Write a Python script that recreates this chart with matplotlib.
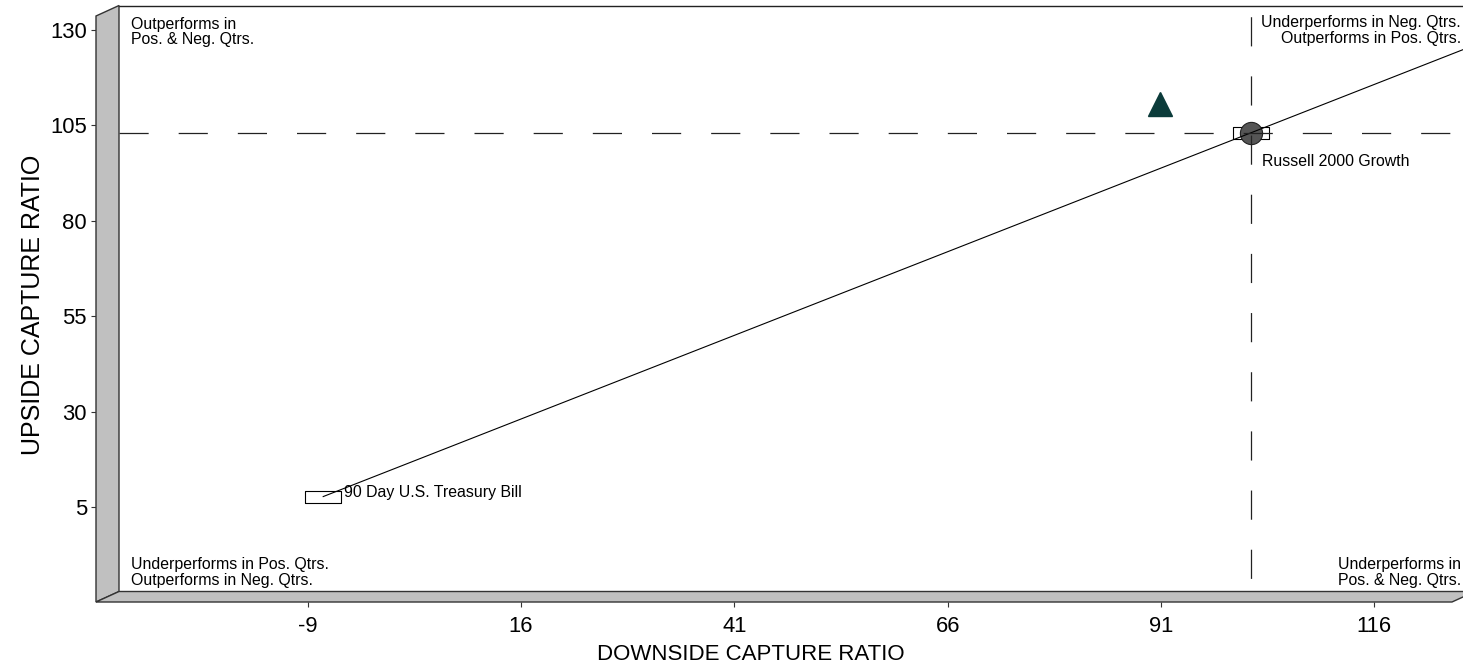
import matplotlib.pyplot as plt
from matplotlib.patches import Polygon

plt.rcParams['font.family'] = ['Liberation Sans', 'DejaVu Sans']
plt.rcParams['lines.scale_dashes'] = False
plt.rcParams['axes.unicode_minus'] = False

# --- data -------------------------------------------------------------
x_ticks = [-9, 16, 41, 66, 91, 116]
y_ticks = [5, 30, 55, 80, 105, 130]

point_names = ["90 Day U.S. Treasury Bill", "Russell 2000 Growth"]
point_down = [-9.0, 100.0]
point_up = [5.0, 100.0]

fund_down = [89.3]
fund_up = [107.6]

quad_tl = "Outperforms in\nPos. & Neg. Qtrs."
quad_tr = "Underperforms in Neg. Qtrs.\nOutperforms in Pos. Qtrs."
quad_bl = "Underperforms in Pos. Qtrs.\nOutperforms in Neg. Qtrs."
quad_br = "Underperforms in\nPos. & Neg. Qtrs."

# --- layout (pixels of a 1463x670 picture) ----------------------------
W, H = 1463, 670
small = 11.4


def fx(px):
    return px / W


def fy(py):
    return 1 - py / H


fig = plt.figure(figsize=(W / 100, H / 100), dpi=100)
fig.patch.set_facecolor("white")

# front plane: carries the ticks
front = fig.add_axes([fx(96), fy(602), (1452 - 96) / W, (602 - 16) / H])
front.set_xlim(-33.8, 125.1)
front.set_ylim(-19.8, 133.6)
front.patch.set_visible(False)
for s in front.spines.values():
    s.set_visible(False)
front.set_xticks(x_ticks)
front.set_yticks(y_ticks)
front.tick_params(axis="both", direction="out", length=3.6, width=0.8,
                  color="#333333", labelsize=15.8, labelcolor="black")
front.tick_params(axis="x", pad=6.5)
front.tick_params(axis="y", pad=3)

# back plane: carries the data
ax_w = 1476 - 119
ax = fig.add_axes([fx(119), fy(591.5), ax_w / W, (591.5 - 5.5) / H])
ax.set_xlim(-33, 126.5)
ax.set_ylim(-19.8, 133.3)
ax.set_xticks([])
ax.set_yticks([])
for side in ["left", "bottom", "right"]:
    ax.spines[side].set_visible(False)
ax.spines["top"].set_linewidth(1.0)
ax.spines["top"].set_color("#222222")

# 3D wall and floor
wall = Polygon([(fx(96), fy(16)), (fx(119), fy(5.5)), (fx(119), fy(591.5)), (fx(96), fy(602))],
               closed=True, transform=fig.transFigure, facecolor="#c0c0c0",
               edgecolor="#333333", linewidth=1.0)
floor = Polygon([(fx(96), fy(602)), (fx(1452), fy(602)), (fx(1475), fy(591.5)), (fx(119), fy(591.5))],
                closed=True, transform=fig.transFigure, facecolor="#c0c0c0",
                edgecolor="#333333", linewidth=1.0)
fig.patches.extend([wall, floor])

# market line from T-bill through the benchmark, out to the edge
slope = (point_up[1] - point_up[0]) / (point_down[1] - point_down[0])
x_end = ax.get_xlim()[1]
ax.plot([point_down[0], x_end], [point_up[0], point_up[0] + slope * (x_end - point_down[0])],
        color="black", linewidth=0.8, zorder=4)

# label boxes
box = [(-18, -5.5), (18, -5.5), (18, 5.5), (-18, 5.5), (-18, -5.5)]
ax.plot(point_down, point_up, linestyle="none", marker=box, markersize=26,
        markerfacecolor="white", markeredgecolor="black", markeredgewidth=0.8, zorder=2)

# benchmark dot
ax.plot(point_down[1:], point_up[1:], linestyle="none", marker="o", markersize=16,
        markerfacecolor="#555555", markeredgecolor="#222222", markeredgewidth=0.8, zorder=3)

# benchmark cross-hairs (horizontal one stops at the picture edge)
ax.axhline(point_up[1], xmin=0, xmax=(1462 - 119) / ax_w, color="#222222", linewidth=0.9,
           linestyle=(0, (21, 21.6)), zorder=5)
ax.axvline(point_down[1], color="#222222", linewidth=0.9, linestyle=(32.8, (21, 21.6)), zorder=5)

# fund
ax.plot(fund_down, fund_up, linestyle="none", marker="^", markersize=17,
        color="#0b3b3a", zorder=6)

# point names
ax.annotate(point_names[0], (point_down[0], point_up[0]), xytext=(15, -0.5),
            textcoords="offset points", va="baseline", ha="left", fontsize=small)
ax.annotate(point_names[1], (point_down[1], point_up[1]), xytext=(8, -23.5),
            textcoords="offset points", va="baseline", ha="left", fontsize=small)

# quadrant captions
fig.text(fx(131), fy(16.5), quad_tl, ha="left", va="top", fontsize=small, linespacing=1.08)
fig.text(fx(1461), fy(15.5), quad_tr, ha="right", va="top", fontsize=small, linespacing=1.08,
         multialignment="right")
fig.text(fx(131), fy(588), quad_bl, ha="left", va="bottom", fontsize=small, linespacing=1.08)
fig.text(fx(1338), fy(588), quad_br, ha="left", va="bottom", fontsize=small, linespacing=1.08)

# axis titles
fig.text(fx(751), fy(655), "DOWNSIDE CAPTURE RATIO", ha="center", va="center", fontsize=16)
fig.text(fx(33), fy(305), "UPSIDE CAPTURE RATIO", ha="center", va="center",
         rotation=90, fontsize=18)

fig.savefig("out.png", dpi=100, facecolor="white")
